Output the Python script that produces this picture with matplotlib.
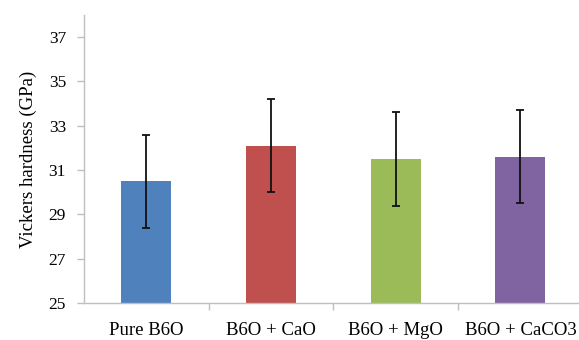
import numpy as np
import matplotlib.pyplot as plt

# Vickers hardness data
samples = ["Pure B6O", "B6O + CaO", "B6O + MgO", "B6O + CaCO3"]
hardness = [30.5, 32.1, 31.5, 31.6]
errors = [2.1, 2.1, 2.1, 2.1]
colors = ["#4F81BD", "#C0504D", "#9BBB59", "#8064A2"]

plt.rcParams['font.family'] = ['Liberation Serif', 'DejaVu Serif']

fig = plt.figure(figsize=(5.79, 3.40), dpi=100)
ax = fig.add_axes([84 / 579, 37 / 340, 495 / 579, 288 / 340])

x = np.arange(len(samples))
ax.bar(x, [h - 25 for h in hardness], bottom=25, width=0.4, color=colors,
       yerr=errors, capsize=3,
       error_kw=dict(ecolor="#111111", elinewidth=1.3, capthick=1.3))

ax.set_ylim(25, 38)
ax.set_xlim(-0.5, 3.47)
ax.set_yticks(range(25, 38, 2))
ax.set_xticks(x)
ax.set_xticklabels(samples, fontsize=13.5)
ax.set_xticks([0.5, 1.5, 2.5], minor=True)
ax.tick_params(axis='x', which='major', length=0, pad=14)
ax.tick_params(axis='x', which='minor', length=5, color="#BFBFBF", width=1)
ax.tick_params(axis='y', length=5, color="#BFBFBF", width=1, labelsize=12.5, pad=8)
ax.set_ylabel("Vickers hardness (GPa)", fontsize=13.5, labelpad=8)

for side in ["top", "right"]:
    ax.spines[side].set_visible(False)
for side in ["left", "bottom"]:
    ax.spines[side].set_color("#BFBFBF")
    ax.spines[side].set_linewidth(1)

fig.savefig("out.png", dpi=100)
